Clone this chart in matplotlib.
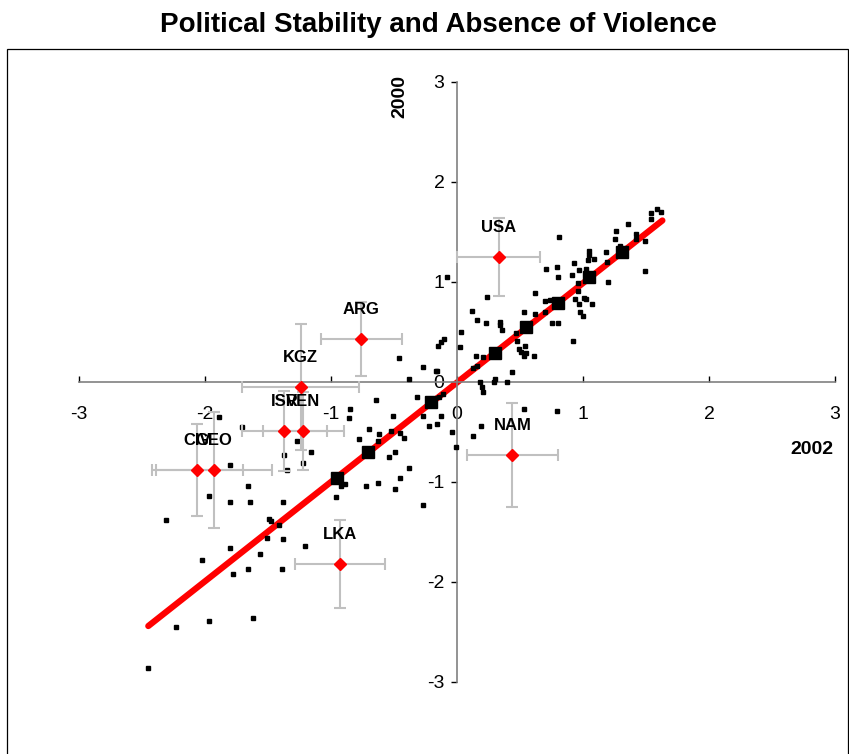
import matplotlib
matplotlib.use("Agg")
import matplotlib.pyplot as plt
from matplotlib.patches import Rectangle
import numpy as np

plt.rcParams['font.family'] = ['Liberation Sans', 'DejaVu Sans']
plt.rcParams['axes.unicode_minus'] = False

# country estimates: 2002 (x) vs 2000 (y), with margins of error
countries = ["USA", "ARG", "KGZ", "ISR", "VEN", "CIV", "GEO", "NAM", "LKA"]
cx = [0.33, -0.76, -1.24, -1.37, -1.22, -2.06, -1.93, 0.44, -0.93]
cy = [1.25, 0.43, -0.05, -0.49, -0.49, -0.88, -0.88, -0.73, -1.82]
cx_err = [0.33, 0.32, 0.465, 0.34, 0.32, 0.36, 0.46, 0.36, 0.355]
cy_err = [0.39, 0.37, 0.63, 0.40, 0.39, 0.46, 0.58, 0.52, 0.44]

# all other countries
x2002 = [-1.71, -1.27, -1.16, -1.37, -1.22, -1.35, -1.80, -1.66, -1.97, -1.80,
         -1.64, -1.38, -2.31, -1.49, -1.48, -1.41, -1.51, -1.38, -1.80, -1.21,
         -2.02, -1.56, -1.78, -1.66, -1.39, -1.97, -1.62, -2.23, -2.45, -1.89,
         -0.70, -0.62, -0.52, -0.45, -0.42, -0.78, -0.63, -0.49, -0.54, -0.45,
         -0.38, -0.92, -0.89, -0.72, -0.63, -0.49, -0.96, -0.27, -0.46, -0.38,
         -0.64, -0.85, -0.86, -0.51, 0.12, 0.16, 0.23, 0.34, 0.34, 0.53,
         0.62, 0.03, 0.36, -0.10, -0.13, -0.15, 0.02, 0.48, 0.54, 0.49,
         0.51, 0.55, 0.53, 0.61, 0.21, 0.15, 0.16, 0.13, -0.27, -0.16,
         -0.17, 0.44, 0.18, 0.30, 0.29, 0.40, 0.20, 0.21, -0.32, -0.11,
         -0.14, -0.27, -0.13, -0.16, -0.22, -0.04, -0.01, 0.19, 0.13, 0.53,
         0.79, 0.81, 1.26, 1.25, 1.36, 1.42, 1.42, 1.49, 1.29, 1.05,
         1.05, 1.09, 1.04, 1.18, 1.19, 0.93, 0.71, 0.79, 0.80, 0.97,
         0.91, 1.02, 1.20, 0.96, -0.08, 0.62, 0.24, 0.96, 0.94, 1.01,
         1.02, 0.70, 0.74, 0.97, 1.07, 0.98, 1.00, 0.70, 0.75, 0.80,
         0.47, 0.92, 1.54, 1.59, 1.62, 1.54, 1.49]
y2000 = [-0.45, -0.59, -0.70, -0.73, -0.81, -0.88, -0.83, -1.04, -1.14, -1.20,
         -1.20, -1.20, -1.38, -1.37, -1.39, -1.43, -1.56, -1.57, -1.66, -1.64,
         -1.78, -1.72, -1.92, -1.87, -1.87, -2.39, -2.36, -2.45, -2.86, -0.35,
         -0.47, -0.52, -0.49, -0.51, -0.56, -0.57, -0.59, -0.70, -0.75, -0.96,
         -0.86, -1.04, -1.02, -1.04, -1.01, -1.07, -1.15, -1.23, 0.24, 0.03,
         -0.18, -0.27, -0.36, -0.34, 0.71, 0.62, 0.59, 0.60, 0.57, 0.70,
         0.68, 0.50, 0.52, 0.43, 0.40, 0.36, 0.35, 0.41, 0.36, 0.33,
         0.30, 0.29, 0.26, 0.26, 0.25, 0.26, 0.16, 0.14, 0.15, 0.11,
         0.11, 0.10, 0.00, 0.03, 0.00, 0.00, -0.05, -0.10, -0.15, -0.12,
         -0.15, -0.34, -0.34, -0.42, -0.44, -0.50, -0.65, -0.44, -0.54, -0.27,
         -0.29, 1.45, 1.51, 1.43, 1.58, 1.48, 1.43, 1.41, 1.36, 1.31,
         1.27, 1.23, 1.22, 1.30, 1.20, 1.19, 1.13, 1.15, 1.05, 1.12,
         1.07, 1.13, 1.00, 0.99, 1.05, 0.89, 0.85, 0.91, 0.83, 0.84,
         0.83, 0.81, 0.82, 0.78, 0.78, 0.70, 0.66, 0.70, 0.59, 0.59,
         0.49, 0.41, 1.69, 1.73, 1.70, 1.63, 1.11]

# group means
mean_x = [-0.95, -0.71, -0.21, 0.30, 0.55, 0.80, 1.05, 1.31]
mean_y = [-0.96, -0.70, -0.20, 0.29, 0.55, 0.79, 1.05, 1.30]

# fitted line
fit_intercept = -0.005
fit_slope = 0.994
fit_range = [-2.45, 1.63]

fig = plt.figure(figsize=(8.49, 7.54), dpi=100)
W, H = 849, 754
ax = fig.add_axes([7 / W, 0, (848 - 7) / W, (754 - 49) / H])
ax.set_xlim((7 - 457) / 126, (848 - 457) / 126)
ax.set_ylim((382 - 754) / 100, (382 - 49) / 100)

for s in ['top', 'right']:
    ax.spines[s].set_visible(False)
ax.spines['left'].set_position(('data', 0))
ax.spines['bottom'].set_position(('data', 0))
ax.spines['left'].set_bounds(-3, 3)
ax.spines['bottom'].set_bounds(-3, 3)
for s in ['left', 'bottom']:
    ax.spines[s].set_color('#808080')
    ax.spines[s].set_linewidth(1.2)

ticks = [-3, -2, -1, 0, 1, 2, 3]
ax.set_xticks(ticks)
ax.set_yticks(ticks)
ax.set_xticklabels([str(t) for t in ticks])
ax.set_yticklabels([str(t) for t in ticks])
ax.tick_params(axis='x', direction='in', length=4, width=1, color='black',
               pad=17, labelsize=14)
ax.tick_params(axis='y', direction='out', length=4, width=1, color='black',
               pad=5, labelsize=14)

# frame round the chart area
fig.patches.append(Rectangle((6.5 / W, -0.01), (848 - 6.5) / W, 1.01 - 49 / H,
                             transform=fig.transFigure, fill=False,
                             edgecolor='black', linewidth=0.9))

xs = np.array(fit_range)
ax.plot(xs, fit_intercept + fit_slope * xs, color='#ff0000', lw=4.5,
        solid_capstyle='round', zorder=2)
ax.plot(x2002, y2000, 's', color='black', ms=2.9, zorder=3)
ax.plot(mean_x, mean_y, 's', color='black', ms=8.5, zorder=4)

ax.errorbar(cx, cy, xerr=cx_err, yerr=cy_err, fmt='none', ecolor='#c0c0c0',
            elinewidth=1.5, capsize=4.5, capthick=1.5, zorder=5)
ax.plot(cx, cy, 'D', color='#ff0000', ms=6, zorder=6)
for name, x, y in zip(countries, cx, cy):
    ax.annotate(name, (x, y), xytext=(0, 21), textcoords='offset points',
                ha='center', va='center', fontsize=12, fontweight='bold',
                zorder=7)

ax.text(2.82, -0.68, "2002", ha='center', va='center', fontsize=14,
        fontweight='bold')
ax.text(-0.45, 2.85, "2000", ha='center', va='center', fontsize=14,
        fontweight='bold', rotation=90)

fig.text(438 / W, 1 - 25 / H, "Political Stability and Absence of Violence",
         ha='center', va='center', fontsize=20, fontweight='bold')

fig.savefig("out.png", dpi=100)
